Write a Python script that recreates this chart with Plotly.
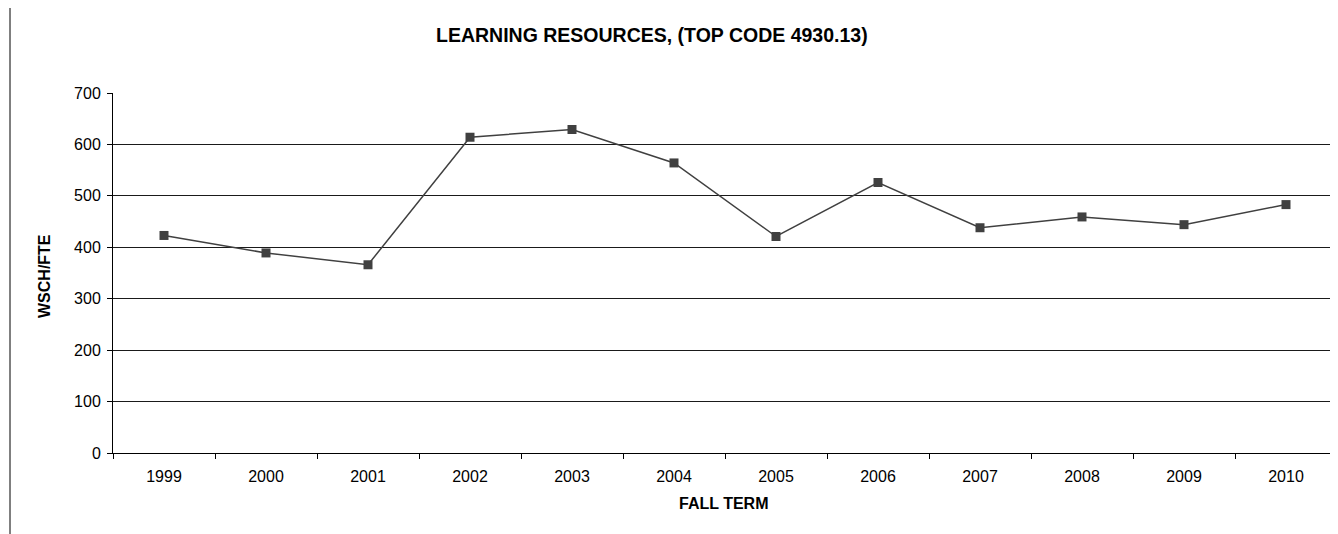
import plotly.graph_objects as go

years = ["1999", "2000", "2001", "2002", "2003", "2004", "2005", "2006", "2007", "2008", "2009", "2010"]
wsch_fte = [423, 389, 366, 614, 629, 564, 421, 526, 438, 459, 444, 483]
y_ticks = [0, 100, 200, 300, 400, 500, 600, 700]

title_text = "LEARNING RESOURCES, (TOP CODE 4930.13)"
x_title = "FALL TERM"
y_title = "WSCH/FTE"

FONT = "Liberation Sans, Arial, sans-serif"
OFF = 8  # default body margin of the html page
W, H = 1338 - OFF, 534 - OFF
# plot area in page pixels: left 113, right 1337, top 93, bottom 453
ML, MR, MT, MB = 113 - OFF, 1, 93 - OFF, 534 - 453
PW = W - ML - MR
PH = H - MT - MB

def px_to_paper_x(px):
    return (px - OFF - ML) / PW

def px_to_paper_y(py):
    return (H - MB - (py - OFF)) / PH

fig = go.Figure()
fig.add_trace(go.Scatter(
    x=years, y=wsch_fte, mode="lines+markers",
    line=dict(color="#404040", width=1.5),
    marker=dict(symbol="square", size=9, color="#404040"),
    showlegend=False,
))

fig.update_layout(
    width=W, height=H,
    margin=dict(l=ML, r=MR, t=MT, b=MB),
    paper_bgcolor="white", plot_bgcolor="white",
    font=dict(family=FONT, size=16, color="black"),
    xaxis=dict(
        type="category", tickson="boundaries", ticks="outside", ticklen=5,
        tickcolor="black", showline=True, linecolor="black", linewidth=1,
        showgrid=False, tickfont=dict(size=16), ticklabelstandoff=9,
        range=[-0.5, len(years) - 0.5],
    ),
    yaxis=dict(
        range=[0, 700], tickvals=y_ticks, ticks="outside", ticklen=5,
        tickcolor="black", showline=True, linecolor="black", linewidth=1,
        showgrid=True, gridcolor="#1a1a1a", gridwidth=1, zeroline=False,
        tickfont=dict(size=16), ticklabelstandoff=3,
    ),
    annotations=[
        dict(text="<b>" + title_text + "</b>", xref="paper", yref="paper",
             x=px_to_paper_x(651.5), y=px_to_paper_y(35), xanchor="center", yanchor="middle",
             showarrow=False, font=dict(size=19.5, family=FONT)),
        dict(text="<b>" + x_title + "</b>", xref="paper", yref="paper",
             x=px_to_paper_x(723), y=px_to_paper_y(503), xanchor="center", yanchor="middle",
             showarrow=False, font=dict(size=16, family=FONT)),
        dict(text="<b>" + y_title + "</b>", xref="paper", yref="paper",
             x=px_to_paper_x(44), y=px_to_paper_y(276), xanchor="center", yanchor="middle",
             textangle=-90, showarrow=False, font=dict(size=16, family=FONT)),
    ],
    shapes=[
        dict(type="line", xref="paper", yref="paper",
             x0=px_to_paper_x(10), x1=px_to_paper_x(10), y0=px_to_paper_y(5), y1=px_to_paper_y(540),
             line=dict(color="black", width=1)),
        dict(type="line", xref="paper", yref="paper", x0=1, x1=1, y0=0, y1=1,
             line=dict(color="#909090", width=1)),
    ],
)

fig.write_html("out.html")
